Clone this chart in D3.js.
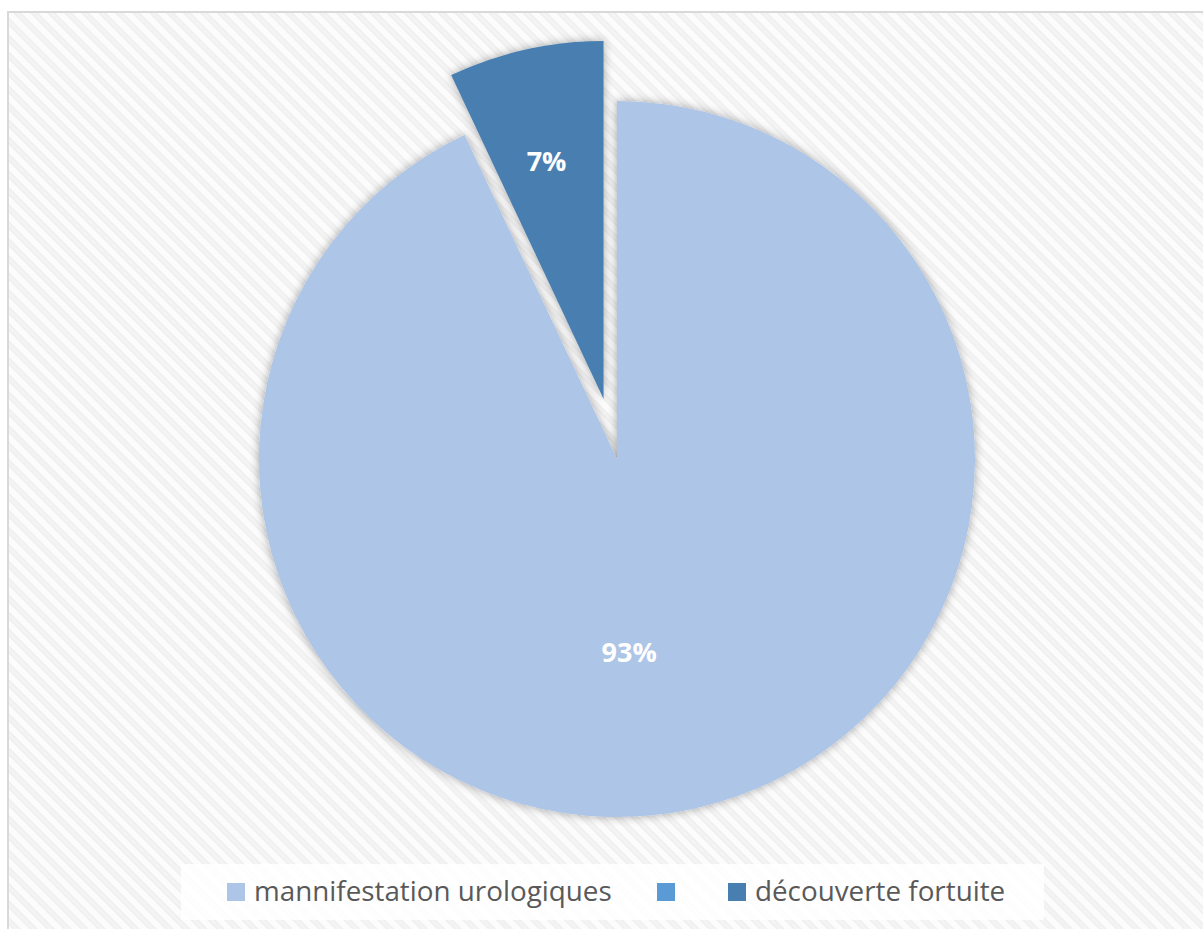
<!DOCTYPE html>
<html>
<head>
<meta charset="utf-8">
<script src="https://cdn.jsdelivr.net/npm/d3@7"></script>
<style>
  html, body { margin: 0; padding: 0; background: #ffffff; }
  svg { display: block; }
</style>
</head>
<body>
<svg id="chart" width="1203" height="929"></svg>
<script>
// Répartition des circonstances de découverte
const categories = ["mannifestation urologiques", "", "découverte fortuite"];
const values = [93, 0, 7];
const labels = ["93%", "", "7%"];
const colors = ["#ADC5E6", "#5B9BD5", "#497EB0"];

const W = 1203, H = 929;
const svg = d3.select("#chart");
const defs = svg.append("defs");

// diagonal texture of the chart area
const pat = defs.append("pattern")
  .attr("id", "diag")
  .attr("patternUnits", "userSpaceOnUse")
  .attr("width", 12).attr("height", 12)
  .attr("patternTransform", "rotate(-45)");
pat.append("rect").attr("width", 12).attr("height", 12).attr("fill", "#fcfcfc");
pat.append("rect").attr("x", 0).attr("width", 6).attr("height", 12).attr("fill", "#efefef");
pat.append("rect").attr("x", 1.5).attr("width", 3).attr("height", 12).attr("fill", "#f4f4f4");

// soft shadow behind the slices
const f = defs.append("filter").attr("id", "shadow")
  .attr("x", "-20%").attr("y", "-20%").attr("width", "140%").attr("height", "140%");
f.append("feDropShadow")
  .attr("dx", 0).attr("dy", 0).attr("stdDeviation", 5)
  .attr("flood-color", "#000").attr("flood-opacity", 0.35);

// chart area
svg.append("rect")
  .attr("x", 8).attr("y", 12)
  .attr("width", W).attr("height", H)
  .attr("fill", "url(#diag)")
  .attr("stroke", "#d9d9d9").attr("stroke-width", 2);

// pie
const cx = 617, cy = 459, R = 358, explode = 61.5;
const pie = d3.pie().sort(null).value(d => d)
  .startAngle(0).endAngle(2 * Math.PI);
const arcs = pie(values);
const arc = d3.arc().innerRadius(0).outerRadius(R);

const offset = (d, i) => {
  if (i !== 2) return [0, 0];
  const a = (d.startAngle + d.endAngle) / 2;
  return [Math.sin(a) * explode, -Math.cos(a) * explode];
};

const g = svg.append("g").attr("transform", `translate(${cx},${cy})`);
const slices = g.append("g").attr("filter", "url(#shadow)");
slices.selectAll("path")
  .data(arcs)
  .join("path")
  .filter(d => d.value > 0)
  .attr("d", arc)
  .attr("fill", d => colors[d.index])
  .attr("transform", d => {
    const [dx, dy] = offset(d, d.index);
    return `translate(${dx},${dy})`;
  });

// data labels
const labelPos = (d) => {
  if (d.index === 2) {
    const [dx, dy] = offset(d, 2);
    const a = (d.startAngle + d.endAngle) / 2 - 0.015;
    const r = 0.685 * R;
    return [dx + Math.sin(a) * r, dy - Math.cos(a) * r];
  }
  const a = Math.PI * 0.98;
  const r = 0.54 * R;
  return [Math.sin(a) * r, -Math.cos(a) * r];
};
g.selectAll("text.lbl")
  .data(arcs.filter(d => d.value > 0))
  .join("text")
  .attr("class", "lbl")
  .attr("x", d => labelPos(d)[0])
  .attr("y", d => labelPos(d)[1])
  .attr("text-anchor", "middle")
  .attr("dominant-baseline", "central")
  .attr("font-family", "'Open Sans', sans-serif")
  .attr("font-weight", "bold")
  .attr("font-size", 27)
  .attr("fill", "#ffffff")
  .text(d => labels[d.index]);

// legend
const legend = svg.append("g");
legend.append("rect")
  .attr("x", 181).attr("y", 864).attr("width", 863).attr("height", 56)
  .attr("fill", "#ffffff").attr("fill-opacity", 0.85);

const itemX = [227, 657, 728];
const item = legend.selectAll("g.item")
  .data(categories)
  .join("g")
  .attr("class", "item")
  .attr("transform", (d, i) => `translate(${itemX[i]},883)`);
item.append("rect")
  .attr("width", 18).attr("height", 18)
  .attr("fill", (d, i) => colors[i]);
item.append("text")
  .attr("x", 27).attr("y", 18)
  .attr("font-family", "'Open Sans', sans-serif")
  .attr("font-size", 27.8)
  .attr("fill", "#595959")
  .text(d => d);
</script>
</body>
</html>
